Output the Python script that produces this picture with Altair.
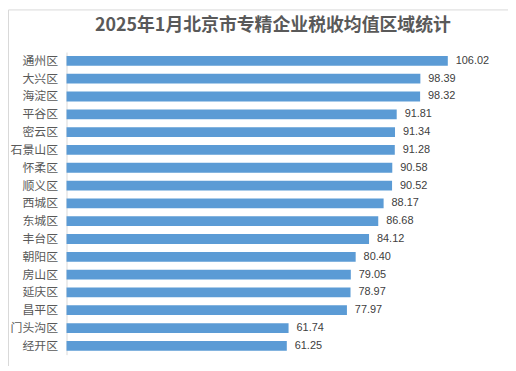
import altair as alt
import pandas as pd

title_text = "2025年1月北京市专精企业税收均值区域统计"
districts = ["通州区", "大兴区", "海淀区", "平谷区", "密云区", "石景山区", "怀柔区", "顺义区",
             "西城区", "东城区", "丰台区", "朝阳区", "房山区", "延庆区", "昌平区", "门头沟区", "经开区"]
values = [106.02, 98.39, 98.32, 91.81, 91.34, 91.28, 90.58, 90.52,
          88.17, 86.68, 84.12, 80.40, 79.05, 78.97, 77.97, 61.74, 61.25]
labels = ["106.02", "98.39", "98.32", "91.81", "91.34", "91.28", "90.58", "90.52",
          "88.17", "86.68", "84.12", "80.40", "79.05", "78.97", "77.97", "61.74", "61.25"]

df = pd.DataFrame({"district": districts, "value": values, "label": labels})

W, H = 435, 305
CJK = "Noto Sans CJK SC"

y_enc = alt.Y("district:N", sort=districts, title=None,
              scale=alt.Scale(paddingInner=0.45, paddingOuter=0.22),
              axis=alt.Axis(ticks=False, labelPadding=9, labelFontSize=12, labelColor="#595959",
                            labelFont=CJK, domainColor="#d9d9d9", domainWidth=1))
x_enc = alt.X("value:Q", scale=alt.Scale(domain=[0, 120], nice=False), axis=None)

border = alt.Chart(pd.DataFrame({"a": [0]})).mark_rect(
    fillOpacity=0, stroke="#d9d9d9", strokeWidth=1
).encode(x=alt.value(-58.5), x2=alt.value(446.5), y=alt.value(-42.5), y2=alt.value(317.5))

title = alt.Chart(pd.DataFrame({"t": [title_text]})).mark_text(
    fontSize=18, fontWeight="bold", color="#595959", font=CJK, align="center", baseline="middle"
).encode(x=alt.value(208), y=alt.value(-26), text="t:N")

bars = alt.Chart(df).mark_bar(color="#5B9BD5").encode(y=y_enc, x=x_enc)

text = alt.Chart(df).mark_text(align="left", dx=8, fontSize=11, color="#404040",
                               font="Liberation Sans").encode(
    y=alt.Y("district:N", sort=districts), x="value:Q", text="label:N")

chart = alt.layer(border, title, bars, text).properties(
    width=W, height=H,
    autosize=alt.AutoSizeParams(type="none"),
    padding={"left": 59, "top": 43, "right": 10, "bottom": 10},
).configure_view(stroke=None)

chart.save("out.html", embed_options={"renderer": "svg", "actions": False})
